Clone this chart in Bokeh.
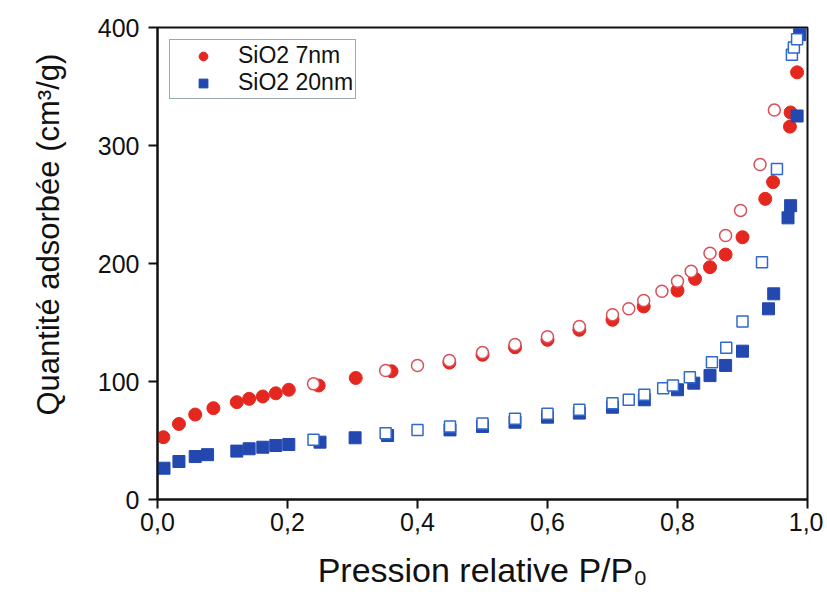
import math
from bokeh.plotting import figure
from bokeh.models import Range1d, FixedTicker, CustomJSTickFormatter, Title, Legend, LegendItem
from bokeh.embed import file_html
from bokeh.resources import INLINE

# SiO2 7nm - adsorption (filled) / desorption (open)
ads7_x = [0.009, 0.033, 0.058, 0.086, 0.122, 0.141, 0.162, 0.182, 0.202, 0.248, 0.305, 0.36, 0.449, 0.50,
          0.55, 0.60, 0.649, 0.70, 0.748, 0.80, 0.827, 0.85, 0.874, 0.90, 0.935, 0.947, 0.973, 0.974, 0.984]
ads7_y = [52.8, 64, 72, 77.4, 82.5, 85.3, 87.3, 90, 93, 96.6, 103, 108.7, 116, 122.6,
          129, 135.3, 143.8, 152.3, 163.6, 177.1, 187, 196.9, 207.6, 222.3, 254.8, 269, 316, 328, 362]
des7_x = [0.24, 0.351, 0.40, 0.449, 0.50, 0.55, 0.60, 0.649, 0.70, 0.725, 0.748, 0.776, 0.80, 0.821,
          0.85, 0.874, 0.897, 0.927, 0.949]
des7_y = [98, 109.3, 113.6, 117.8, 124.5, 131.3, 138, 146.6, 156.5, 161.6, 168.6, 176.5, 185, 193.5,
          208.7, 223.7, 245, 283.9, 330]

# SiO2 20nm - adsorption (filled) / desorption (open)
ads20_x = [0.01, 0.033, 0.058, 0.077, 0.122, 0.141, 0.162, 0.182, 0.202, 0.25, 0.304, 0.354, 0.45, 0.50,
           0.55, 0.60, 0.649, 0.70, 0.749, 0.80, 0.825, 0.85, 0.874, 0.90, 0.94, 0.948, 0.970, 0.974, 0.984, 0.988]
ads20_y = [26.5, 32.2, 36.4, 38, 41, 43, 44.3, 45.8, 46.6, 48.6, 52.3, 54.2, 59, 61.9,
           65.5, 69.8, 73.2, 78.2, 84.5, 93, 98.6, 105, 113.6, 125.7, 161.6, 174.3, 238.7, 249, 325, 394]
des20_x = [0.24, 0.351, 0.40, 0.45, 0.50, 0.55, 0.60, 0.649, 0.70, 0.725, 0.749, 0.778, 0.793, 0.819,
           0.853, 0.875, 0.90, 0.930, 0.953, 0.976, 0.979, 0.984]
des20_y = [50.6, 56.2, 59, 61.8, 64.5, 68.4, 72.6, 76, 81.6, 84.5, 88.7, 94.3, 96.6, 103.6,
           116.4, 128.5, 150.8, 201, 280, 377, 383, 390]

x_ticks = [0.0, 0.2, 0.4, 0.6, 0.8, 1.0]
y_ticks = [0, 100, 200, 300, 400]
series_labels = ["SiO2 7nm", "SiO2 20nm"]
x_title = "Pression relative P/P\u2080"
y_title = "Quantit\u00e9 adsorb\u00e9e (cm\u00b3/g)"

RED = "#e5281f"
RED_OPEN = "#d9505a"
BLUE = "#2348b0"
BLUE_OPEN = "#3068cc"
FONT = "Liberation Sans"

p = figure(width=823, height=604, output_backend="svg", toolbar_location=None,
           x_range=Range1d(0, 1.0), y_range=Range1d(0, 400),
           min_border_left=157, min_border_right=16, min_border_top=27, min_border_bottom=105)
p.grid.visible = False
p.background_fill_color = "white"
p.border_fill_color = "white"
p.outline_line_color = "#111111"
p.outline_line_width = 2

r1 = p.scatter(ads7_x, ads7_y, marker="circle", size=13, fill_color=RED, line_color=RED)
p.scatter(des7_x, des7_y, marker="circle", size=12, fill_color="white", line_color=RED_OPEN, line_width=1.5)
r2 = p.scatter(ads20_x, ads20_y, marker="square", size=12, fill_color=BLUE, line_color=BLUE)
p.scatter(des20_x, des20_y, marker="square", size=11, fill_color="white", line_color=BLUE_OPEN, line_width=1.5)

for ax in (p.xaxis[0], p.yaxis[0]):
    ax.axis_line_width = 2
    ax.axis_line_color = "#111111"
    ax.major_tick_line_width = 2
    ax.major_tick_line_color = "#111111"
    ax.major_tick_out = 9
    ax.major_tick_in = 0
    ax.minor_tick_out = 0
    ax.minor_tick_in = 0
    ax.major_label_text_font = FONT
    ax.major_label_text_font_size = "25px"
    ax.major_label_text_color = "#111111"

p.xaxis.ticker = FixedTicker(ticks=x_ticks)
p.yaxis.ticker = FixedTicker(ticks=y_ticks)
p.xaxis.formatter = CustomJSTickFormatter(code="return tick.toFixed(1).replace('.', ',');")
p.yaxis.formatter = CustomJSTickFormatter(code="return tick.toFixed(0);")
p.xaxis.major_label_standoff = 4
p.yaxis.major_label_standoff = 9

p.xaxis.axis_label = x_title
p.xaxis.axis_label_text_font = FONT
p.xaxis.axis_label_text_font_size = "34px"
p.xaxis.axis_label_text_font_style = "normal"
p.xaxis.axis_label_text_color = "#111111"
p.xaxis.axis_label_standoff = 17

ytitle = Title(text=y_title, align="left", offset=84, standoff=57,
               text_font=FONT, text_font_size="31px", text_font_style="normal",
               text_color="#111111")
p.add_layout(ytitle, "left")

legend = Legend(items=[LegendItem(label=series_labels[0], renderers=[r1]),
                       LegendItem(label=series_labels[1], renderers=[r2])],
                location="top_left", margin=12, padding=2, spacing=0,
                glyph_width=62, glyph_height=22, label_height=22, label_standoff=4,
                label_text_font=FONT, label_text_font_size="23px", label_text_color="#111111",
                border_line_color="#2f5866", border_line_width=1.2,
                background_fill_color="white", background_fill_alpha=1)
p.add_layout(legend)

open("out.html", "w").write(file_html(p, INLINE))
